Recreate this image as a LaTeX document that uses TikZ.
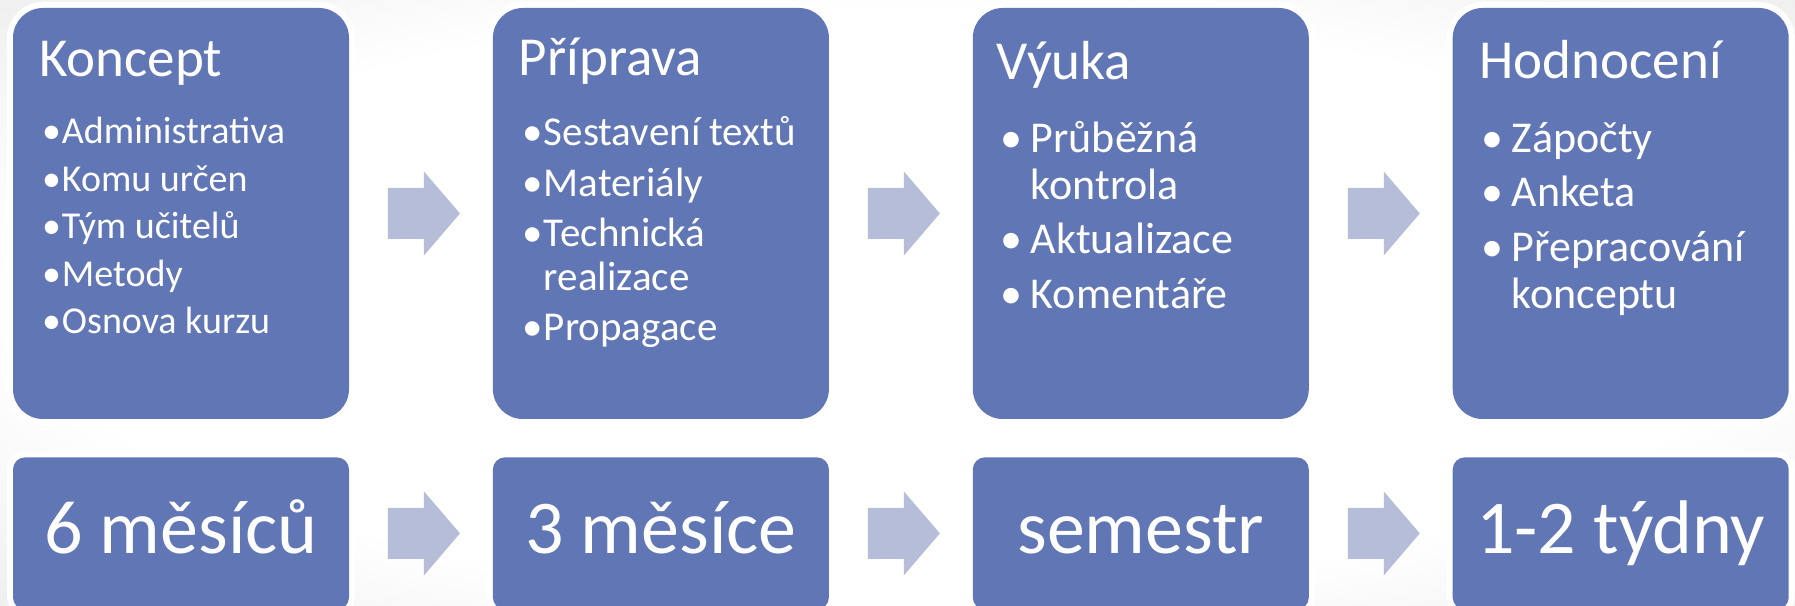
\documentclass[tikz,border=0pt]{standalone}
\usepackage{fontspec}
\setmainfont{Carlito}
\usetikzlibrary{positioning,calc}

\definecolor{boxblue}{RGB}{97,118,180}
\definecolor{arrowgray}{RGB}{181,189,216}
\pgfdeclareradialshading{slidebg}{\pgfpoint{0bp}{0bp}}{color(0bp)=(white); color(24bp)=(white); color(50bp)=(black!14)}

% block arrow half way between two boxes
\newcommand{\blockarrow}[2]{%
  \fill[arrowgray] ($(#1.east)!.5!(#2.west)$) ++(-33,-25.5) -- ++(36,0) -- ++(0,-16.5)
    -- ++(36,42) -- ++(-36,42) -- ++(0,-16.5) -- ++(-36,0) -- cycle;}

\begin{document}
\begin{tikzpicture}[x=1pt, y=1pt]
    \tikzset{stage/.style={
        fill=boxblue, rounded corners=30pt, inner sep=0pt,
        minimum width=336pt, minimum height=411pt,
        preaction={draw=white, line width=12pt}
      },
      span/.style={stage, rounded corners=12pt, minimum height=152pt,
        text=white, font=\fontsize{76}{80}\selectfont, text height=40pt, text depth=0pt
      },
      title/.style={text=white, inner sep=0pt, anchor=base west, font=\fontsize{55}{60}\selectfont},
      list/.style={text=white, inner sep=0pt, anchor=base west}
    }

    \useasboundingbox (0,0) rectangle (1795,605);
    \clip (0,0) rectangle (1795,605);
    \shade[shading=slidebg] (0,0) rectangle (1795,605);

    \node[stage] (koncept) at (181,391.5) {};
    \node[stage, right=143.5pt of koncept] (priprava) {};
    \node[stage, right=143.5pt of priprava] (vyuka) {};
    \node[stage, right=143.5pt of vyuka] (hodnoceni) {};

    \node[span, below=38pt of koncept] (tkoncept) {6 měsíců};
    \node[span, below=38pt of priprava] (tpriprava) {3 měsíce};
    \node[span, below=38pt of vyuka] (tvyuka) {semestr};
    \node[span, below=38pt of hodnoceni] (thodnoceni) {1-2 týdny};

    \node[title] at ([shift={(26pt,-69pt)}]koncept.north west) {Koncept};
    \node[title] at ([shift={(26pt,-68pt)}]priprava.north west) {Příprava};
    \node[title] at ([shift={(24pt,-72pt)}]vyuka.north west) {Výuka};
    \node[title] at ([shift={(27pt,-71pt)}]hodnoceni.north west) {Hodnocení};

    \node[list, font=\fontsize{38}{47.5}\selectfont] at ([shift={(29pt,-136pt)}]koncept.north west) {%
      \begin{tabular}[t]{@{}p{20pt}@{}l@{}}
        \textbullet & Administrativa\\
        \textbullet & Komu určen\\
        \textbullet & Tým učitelů\\
        \textbullet & Metody\\
        \textbullet & Osnova kurzu
      \end{tabular}};
    \node[list, font=\fontsize{41}{44}\selectfont] at ([shift={(30pt,-138pt)}]priprava.north west) {%
      \begin{tabular}[t]{@{}p{21pt}@{}l@{}}
        \textbullet & Sestavení textů\\[7pt]
        \textbullet & Materiály\\[6pt]
        \textbullet & Technická\\
                    & realizace\\[6pt]
        \textbullet & Propagace
      \end{tabular}};
    \node[list, font=\fontsize{44}{47}\selectfont] at ([shift={(28pt,-145pt)}]vyuka.north west) {%
      \begin{tabular}[t]{@{}p{30pt}@{}l@{}}
        \textbullet & Průběžná\\
                    & kontrola\\[7pt]
        \textbullet & Aktualizace\\[8pt]
        \textbullet & Komentáře
      \end{tabular}};
    \node[list, font=\fontsize{44}{47}\selectfont] at ([shift={(29pt,-145pt)}]hodnoceni.north west) {%
      \begin{tabular}[t]{@{}p{30pt}@{}l@{}}
        \textbullet & Zápočty\\[7pt]
        \textbullet & Anketa\\[8pt]
        \textbullet & Přepracování\\
                    & konceptu
      \end{tabular}};

    \blockarrow{koncept}{priprava}
    \blockarrow{priprava}{vyuka}
    \blockarrow{vyuka}{hodnoceni}
    \blockarrow{tkoncept}{tpriprava}
    \blockarrow{tpriprava}{tvyuka}
    \blockarrow{tvyuka}{thodnoceni}
\end{tikzpicture}
\end{document}
